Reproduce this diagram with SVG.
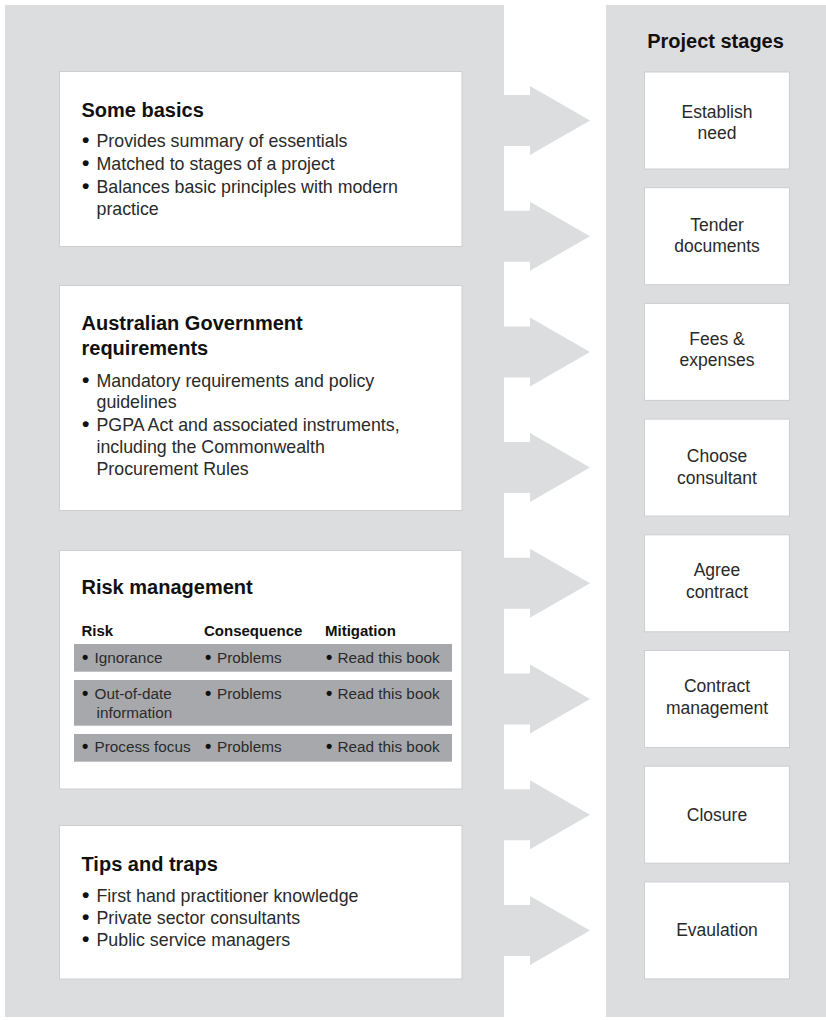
<svg xmlns="http://www.w3.org/2000/svg" width="826" height="1020" viewBox="0 0 826 1020">
<style>
  .panel { fill: #dcdddf; }
  .box { fill: #ffffff; stroke: #cdced1; stroke-width: 1; }
  .row { fill: #a7a8ab; }
  .arrow { fill: #dcdddf; }
  .title { font-family: "Liberation Sans", Arial, sans-serif; font-weight: bold; font-size: 20px; fill: #111111; }
  .body { font-family: "Liberation Sans", Arial, sans-serif; font-size: 17.8px; fill: #2a2a2a; }
  .hdr { font-family: "Liberation Sans", Arial, sans-serif; font-weight: bold; font-size: 15px; fill: #111111; }
  .cell { font-family: "Liberation Sans", Arial, sans-serif; font-size: 15.3px; fill: #2a2a2a; }
  .stage { font-family: "Liberation Sans", Arial, sans-serif; font-size: 17.5px; fill: #2a2a2a; text-anchor: middle; }
  .b { font-size: 21px; font-weight: bold; fill: #111111; }
  .bs { font-size: 18px; font-weight: bold; fill: #111111; }
</style>
<rect width="826" height="1020" fill="#ffffff"/>
<rect class="panel" x="5" y="5" width="499" height="1012"/>
<rect class="panel" x="606" y="5" width="220" height="1012"/>

<g id="connectors">
  <polygon class="arrow" points="503,95 530,95 530,86 590,120.5 530,155 530,146 503,146"/>
  <polygon class="arrow" points="503,210.7 530,210.7 530,201.7 590,236.2 530,270.7 530,261.7 503,261.7"/>
  <polygon class="arrow" points="503,326.4 530,326.4 530,317.4 590,351.9 530,386.4 530,377.4 503,377.4"/>
  <polygon class="arrow" points="503,442.1 530,442.1 530,433.1 590,467.6 530,502.1 530,493.1 503,493.1"/>
  <polygon class="arrow" points="503,557.8 530,557.8 530,548.8 590,583.3 530,617.8 530,608.8 503,608.8"/>
  <polygon class="arrow" points="503,673.5 530,673.5 530,664.5 590,699 530,733.5 530,724.5 503,724.5"/>
  <polygon class="arrow" points="503,789.2 530,789.2 530,780.2 590,814.7 530,849.2 530,840.2 503,840.2"/>
  <polygon class="arrow" points="503,904.9 530,904.9 530,895.9 590,930.4 530,964.9 530,955.9 503,955.9"/>
</g>

<g id="some-basics">
  <rect class="box" x="59.5" y="71.5" width="402.5" height="175"/>
  <text class="title" x="81.5" y="116.7">Some basics</text>
  <text class="body"><tspan class="b" x="82" y="146.7">•</tspan><tspan x="96.5" y="146.7">Provides summary of essentials</tspan></text>
  <text class="body"><tspan class="b" x="82" y="170">•</tspan><tspan x="96.5" y="170">Matched to stages of a project</tspan></text>
  <text class="body"><tspan class="b" x="82" y="192.5">•</tspan><tspan x="96.5" y="192.5">Balances basic principles with modern</tspan></text>
  <text class="body" x="96.5" y="215">practice</text>
</g>

<g id="australian-government">
  <rect class="box" x="59.5" y="285.5" width="402.5" height="225"/>
  <text class="title" x="81.5" y="330">Australian Government</text>
  <text class="title" x="81.5" y="355">requirements</text>
  <text class="body"><tspan class="b" x="82" y="386.7">•</tspan><tspan x="96.5" y="386.7">Mandatory requirements and policy</tspan></text>
  <text class="body" x="96.5" y="408">guidelines</text>
  <text class="body"><tspan class="b" x="82" y="430.5">•</tspan><tspan x="96.5" y="430.5">PGPA Act and associated instruments,</tspan></text>
  <text class="body" x="96.5" y="453">including the Commonwealth</text>
  <text class="body" x="96.5" y="475">Procurement Rules</text>
</g>

<g id="risk-management">
  <rect class="box" x="59.5" y="550.5" width="402.5" height="238.5"/>
  <text class="title" x="81.5" y="594.3">Risk management</text>
  <text class="hdr" x="81.5" y="636">Risk</text>
  <text class="hdr" x="204" y="636">Consequence</text>
  <text class="hdr" x="325" y="636">Mitigation</text>
  <rect class="row" x="74" y="644" width="378" height="27.7"/>
  <rect class="row" x="74" y="680" width="378" height="45.7"/>
  <rect class="row" x="74" y="734" width="378" height="27.7"/>
  <text class="cell"><tspan class="bs" x="82" y="662.7">•</tspan><tspan x="94.5" y="662.7">Ignorance</tspan></text>
  <text class="cell"><tspan class="bs" x="205" y="662.7">•</tspan><tspan x="217" y="662.7">Problems</tspan></text>
  <text class="cell"><tspan class="bs" x="326" y="662.7">•</tspan><tspan x="337.5" y="662.7">Read this book</tspan></text>
  <text class="cell"><tspan class="bs" x="82" y="699.3">•</tspan><tspan x="94.5" y="699.3">Out-of-date</tspan></text>
  <text class="cell" x="96.5" y="718.3">information</text>
  <text class="cell"><tspan class="bs" x="205" y="699.3">•</tspan><tspan x="217" y="699.3">Problems</tspan></text>
  <text class="cell"><tspan class="bs" x="326" y="699.3">•</tspan><tspan x="337.5" y="699.3">Read this book</tspan></text>
  <text class="cell"><tspan class="bs" x="82" y="751.7">•</tspan><tspan x="94.5" y="751.7">Process focus</tspan></text>
  <text class="cell"><tspan class="bs" x="205" y="751.7">•</tspan><tspan x="217" y="751.7">Problems</tspan></text>
  <text class="cell"><tspan class="bs" x="326" y="751.7">•</tspan><tspan x="337.5" y="751.7">Read this book</tspan></text>
</g>

<g id="tips-and-traps">
  <rect class="box" x="59.5" y="825.5" width="402.5" height="153.5"/>
  <text class="title" x="81.5" y="871">Tips and traps</text>
  <text class="body"><tspan class="b" x="82" y="901.7">•</tspan><tspan x="96.5" y="901.7">First hand practitioner knowledge</tspan></text>
  <text class="body"><tspan class="b" x="82" y="924">•</tspan><tspan x="96.5" y="924">Private sector consultants</tspan></text>
  <text class="body"><tspan class="b" x="82" y="946.3">•</tspan><tspan x="96.5" y="946.3">Public service managers</tspan></text>
</g>

<g id="project-stages-title">
  <text class="title" x="715.5" y="47.7" text-anchor="middle">Project stages</text>
</g>

<g id="stage-establish-need">
  <rect class="box" x="644.5" y="72" width="145" height="97"/>
  <text class="stage" x="717" y="117.7">Establish</text>
  <text class="stage" x="717" y="139.3">need</text>
</g>
<g id="stage-tender-documents">
  <rect class="box" x="644.5" y="187.7" width="145" height="97"/>
  <text class="stage" x="717" y="230.7">Tender</text>
  <text class="stage" x="717" y="252.3">documents</text>
</g>
<g id="stage-fees-expenses">
  <rect class="box" x="644.5" y="303.4" width="145" height="97"/>
  <text class="stage" x="717" y="344.5">Fees &amp;</text>
  <text class="stage" x="717" y="366">expenses</text>
</g>
<g id="stage-choose-consultant">
  <rect class="box" x="644.5" y="419.1" width="145" height="97"/>
  <text class="stage" x="717" y="462.3">Choose</text>
  <text class="stage" x="717" y="484.3">consultant</text>
</g>
<g id="stage-agree-contract">
  <rect class="box" x="644.5" y="534.8" width="145" height="97"/>
  <text class="stage" x="717" y="576">Agree</text>
  <text class="stage" x="717" y="597.5">contract</text>
</g>
<g id="stage-contract-management">
  <rect class="box" x="644.5" y="650.5" width="145" height="97"/>
  <text class="stage" x="717" y="692">Contract</text>
  <text class="stage" x="717" y="714">management</text>
</g>
<g id="stage-closure">
  <rect class="box" x="644.5" y="766.2" width="145" height="97"/>
  <text class="stage" x="717" y="820.7">Closure</text>
</g>
<g id="stage-evaulation">
  <rect class="box" x="644.5" y="881.9" width="145" height="97"/>
  <text class="stage" x="717" y="936">Evaulation</text>
</g>
</svg>
